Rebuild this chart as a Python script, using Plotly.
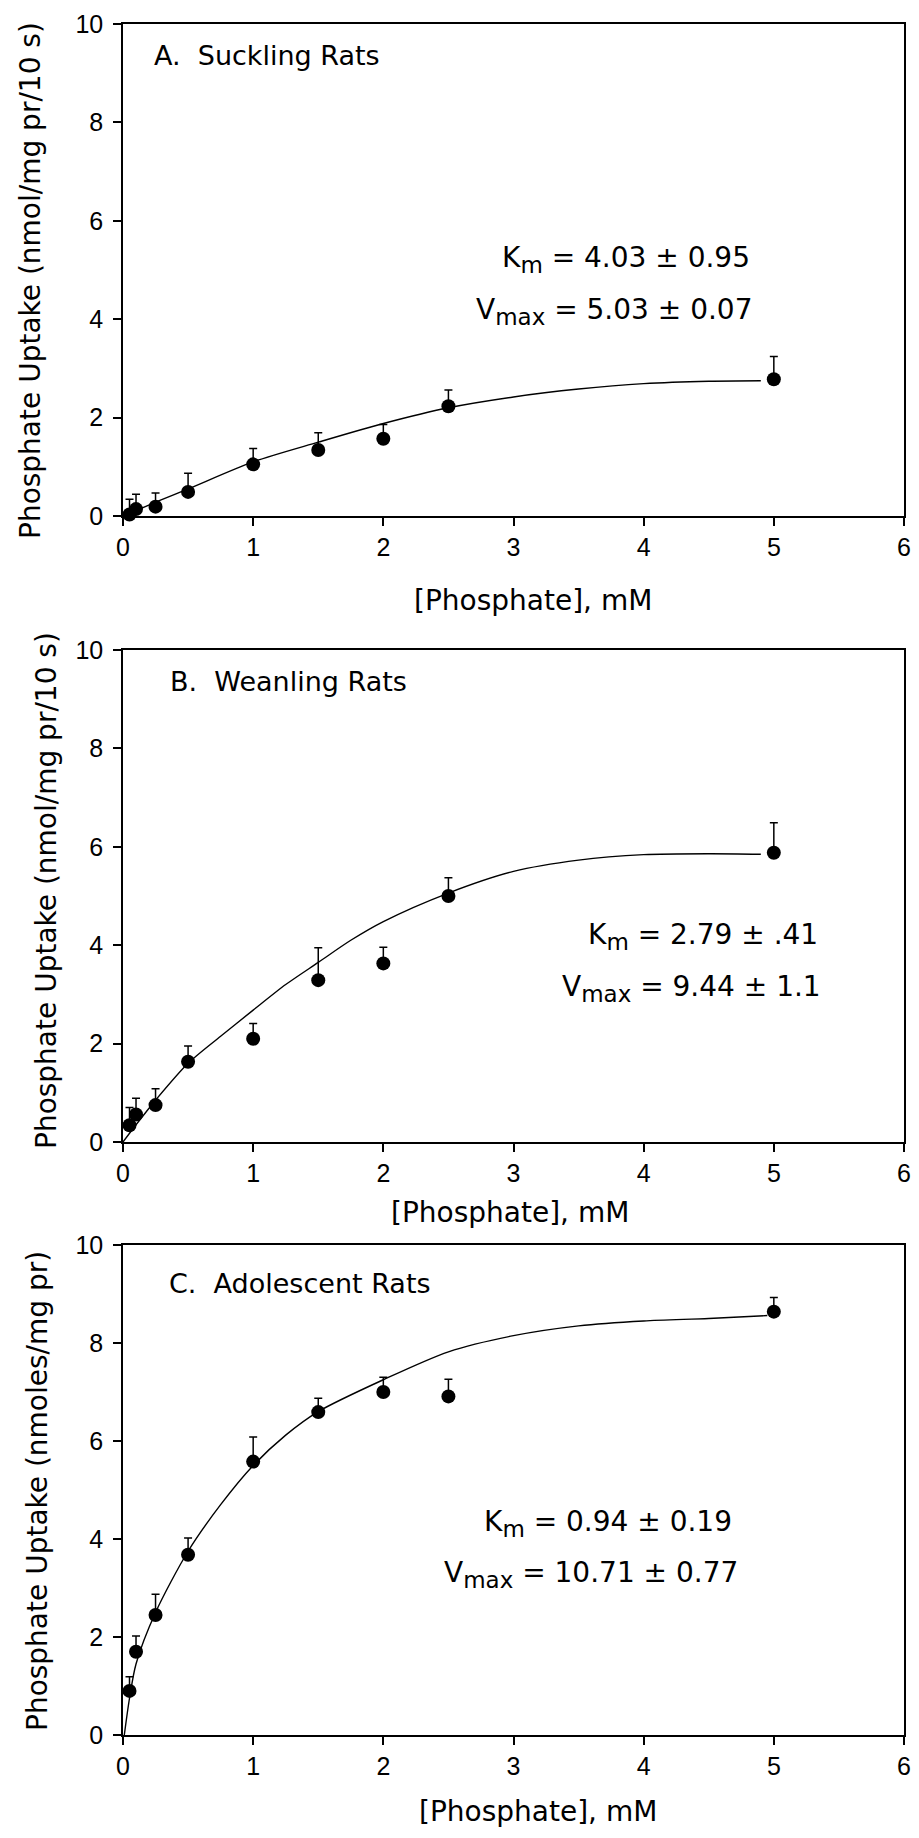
import plotly.graph_objects as go

# ---------------- data ----------------
conc = [0.05, 0.1, 0.25, 0.5, 1.0, 1.5, 2.0, 2.5, 5.0]

uptake_a = [0.03, 0.14, 0.19, 0.49, 1.05, 1.34, 1.57, 2.23, 2.78]
err_a = [0.31, 0.30, 0.28, 0.38, 0.32, 0.35, 0.29, 0.33, 0.46]
curve_a_x = [0.0, 0.1, 0.25, 0.5, 1.0, 1.5, 2.0, 2.5, 3.0, 3.5, 4.0, 4.5, 4.9]
curve_a_y = [0.0, 0.11, 0.28, 0.55, 1.1, 1.5, 1.88, 2.2, 2.42, 2.58, 2.69, 2.74, 2.75]

uptake_b = [0.34, 0.56, 0.75, 1.63, 2.10, 3.29, 3.63, 5.00, 5.88]
err_b = [0.36, 0.33, 0.33, 0.32, 0.31, 0.66, 0.33, 0.37, 0.61]
curve_b_x = [0.0, 0.1, 0.25, 0.5, 0.75, 1.0, 1.25, 1.5, 1.75, 2.0, 2.5, 3.0, 3.5, 4.0, 4.5, 4.9]
curve_b_y = [0.0, 0.35, 0.85, 1.6, 2.15, 2.68, 3.2, 3.65, 4.1, 4.48, 5.06, 5.5, 5.73, 5.84, 5.86, 5.85]

uptake_c = [0.90, 1.70, 2.45, 3.68, 5.58, 6.59, 7.00, 6.91, 8.64]
err_c = [0.29, 0.32, 0.42, 0.34, 0.50, 0.28, 0.30, 0.35, 0.29]
curve_c_x = [0.01, 0.05, 0.1, 0.25, 0.5, 0.75, 1.0, 1.25, 1.5, 2.0, 2.5, 3.0, 3.5, 4.0, 4.5, 4.95]
curve_c_y = [0.0, 0.75, 1.45, 2.5, 3.75, 4.7, 5.5, 6.12, 6.6, 7.25, 7.82, 8.15, 8.35, 8.45, 8.5, 8.56]

x_ticks = [0, 1, 2, 3, 4, 5, 6]
y_ticks = [0, 2, 4, 6, 8, 10]

panel_titles = ["A.\u00a0 Suckling Rats", "B.\u00a0 Weanling Rats", "C.\u00a0 Adolescent Rats"]
y_titles = ["Phosphate Uptake (nmol/mg pr/10 s)",
            "Phosphate Uptake (nmol/mg pr/10 s)",
            "Phosphate Uptake (nmoles/mg pr)"]
x_title = "[Phosphate], mM"
SUB = '<sub><span style="font-size:23px">%s</span></sub>'
km_texts = ["K" + SUB % "m" + " = 4.03 ± 0.95",
            "K" + SUB % "m" + " = 2.79 ± .41",
            "K" + SUB % "m" + " = 0.94 ± 0.19"]
vmax_texts = ["V" + SUB % "max" + " = 5.03 ± 0.07",
              "V" + SUB % "max" + " = 9.44 ± 1.1",
              "V" + SUB % "max" + " = 10.71 ± 0.77"]

# ---------------- layout geometry (page pixels of the reference) ----------------
PAGE_MARGIN = 8          # default body margin of the html page
W, H = 919 - 2 * PAGE_MARGIN, 1838 - 2 * PAGE_MARGIN
X_LEFT, X_RIGHT = 123, 904
panel_px = [(24, 516), (650, 1142), (1245, 1735)]   # top, bottom of plot area
ytitle_pos = [(31, 281), (46, 891), (37, 1491)]
# (x centre, y, vertical anchor)
xtitle_pos = [(533, 600, "middle"), (510, 1212, "middle"), (538, 1830, "bottom")]
ptitle_pos = [(152, 55), (168, 682), (167, 1283)]
km_pos = [(752, 260), (820, 937), (734, 1523)]
vmax_pos = [(755, 311), (823, 988), (740, 1574)]

TXT_FONT = dict(family="DejaVu Sans", size=27, color="black")
KM_FONT = dict(family="DejaVu Sans", size=28, color="black")
TITLE_FONT = dict(family="DejaVu Sans", size=28, color="black")
TICK_FONT = dict(family="Liberation Sans", size=25, color="black")


def px(x):
    return (x - PAGE_MARGIN) / W


def py(y):
    return 1 - (y - PAGE_MARGIN) / H


fig = go.Figure()
series = [
    (uptake_a, err_a, curve_a_x, curve_a_y),
    (uptake_b, err_b, curve_b_x, curve_b_y),
    (uptake_c, err_c, curve_c_x, curve_c_y),
]

layout = dict(
    width=W, height=H,
    margin=dict(l=0, r=0, t=0, b=0, autoexpand=False),
    paper_bgcolor="white", plot_bgcolor="white",
    showlegend=False,
)
annotations = []

for i, (vals, errs, cx, cy) in enumerate(series):
    n = "" if i == 0 else str(i + 1)
    xa, ya = "x" + n, "y" + n
    fig.add_trace(go.Scatter(
        x=cx, y=cy, mode="lines", line=dict(color="black", width=1.4, shape="spline", smoothing=0.8),
        xaxis=xa, yaxis=ya, hoverinfo="skip", cliponaxis=False))
    fig.add_trace(go.Scatter(
        x=conc, y=vals, mode="markers",
        marker=dict(color="black", size=14, line=dict(width=0)),
        error_y=dict(type="data", symmetric=False, array=errs, arrayminus=[0] * len(errs),
                     color="black", thickness=1.5, width=4),
        xaxis=xa, yaxis=ya, cliponaxis=False))
    top, bottom = panel_px[i]
    common = dict(showline=True, mirror=True, linecolor="black", linewidth=1.5,
                  ticks="outside", ticklen=8, tickwidth=1.5, tickcolor="black",
                  showgrid=False, zeroline=False, tickfont=TICK_FONT)
    layout["xaxis" + n] = dict(domain=[px(X_LEFT), px(X_RIGHT)], range=[0, 6],
                               tickvals=x_ticks, anchor=ya, ticklabeloverflow="allow", **common)
    layout["yaxis" + n] = dict(domain=[py(bottom), py(top)], range=[0, 10],
                               tickvals=y_ticks, anchor=xa, ticklabelstandoff=5, **common)

    annotations.append(dict(text=y_titles[i], x=px(ytitle_pos[i][0]), y=py(ytitle_pos[i][1]),
                            xref="paper", yref="paper", textangle=-90, showarrow=False,
                            xanchor="center", yanchor="middle", font=TITLE_FONT))
    tx, ty, tanchor = xtitle_pos[i]
    annotations.append(dict(text=x_title, x=px(tx), y=py(ty),
                            xref="paper", yref="paper", showarrow=False,
                            xanchor="center", yanchor=tanchor, font=TITLE_FONT))
    annotations.append(dict(text=panel_titles[i], x=px(ptitle_pos[i][0]), y=py(ptitle_pos[i][1]),
                            xref="paper", yref="paper", showarrow=False,
                            xanchor="left", yanchor="middle", font=TXT_FONT))
    annotations.append(dict(text=km_texts[i], x=px(km_pos[i][0]), y=py(km_pos[i][1]),
                            xref="paper", yref="paper", showarrow=False,
                            xanchor="right", yanchor="middle", font=KM_FONT))
    annotations.append(dict(text=vmax_texts[i], x=px(vmax_pos[i][0]), y=py(vmax_pos[i][1]),
                            xref="paper", yref="paper", showarrow=False,
                            xanchor="right", yanchor="middle", font=KM_FONT))

layout["annotations"] = annotations
fig.update_layout(**layout)
fig.write_html("out.html")
